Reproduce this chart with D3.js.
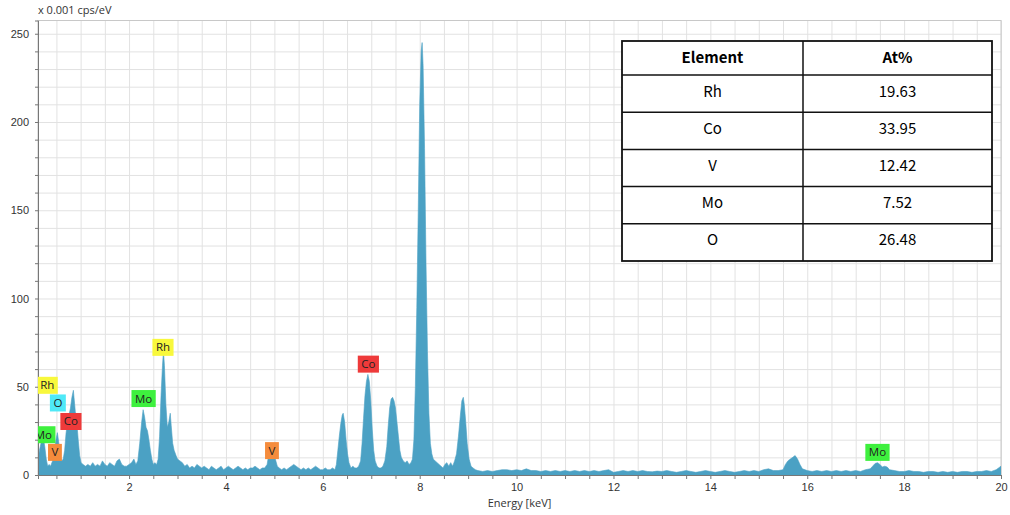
<!DOCTYPE html>
<html>
<head>
<meta charset="utf-8">
<script src="https://cdn.jsdelivr.net/npm/d3@7"></script>
<style>
  body { margin: 0; background: #fff; }
  svg { display: block; font-family: "Open Sans", "Noto Sans", sans-serif; }
</style>
</head>
<body>
<div id="chart"></div>
<script>
// spectrum, energy in keV and counts in 0.001 cps/eV
const energy = [
  0.12, 0.15, 0.19, 0.23, 0.26, 0.29, 0.32, 0.35, 0.38, 0.42, 0.46, 0.49, 0.52, 0.55, 0.58, 0.61, 0.64, 0.67,
  0.70, 0.73, 0.76, 0.79, 0.82, 0.85, 0.87, 0.89, 0.92, 0.95, 0.98, 1.01, 1.05, 1.10, 1.15, 1.20, 1.25, 1.30,
  1.35, 1.40, 1.45, 1.50, 1.55, 1.60, 1.65, 1.70, 1.75, 1.80, 1.85, 1.90, 1.95, 2.00, 2.05, 2.10, 2.14, 2.18,
  2.22, 2.26, 2.29, 2.32, 2.35, 2.38, 2.41, 2.44, 2.47, 2.50, 2.53, 2.57, 2.60, 2.63, 2.66, 2.69, 2.71, 2.73,
  2.76, 2.79, 2.82, 2.85, 2.87, 2.90, 2.93, 2.97, 3.00, 3.05, 3.10, 3.15, 3.20, 3.25, 3.30, 3.35, 3.40, 3.45,
  3.50, 3.55, 3.60, 3.65, 3.70, 3.75, 3.80, 3.85, 3.90, 3.95, 4.00, 4.05, 4.10, 4.15, 4.20, 4.25, 4.30, 4.35,
  4.40, 4.45, 4.50, 4.55, 4.60, 4.65, 4.70, 4.75, 4.80, 4.85, 4.88, 4.92, 4.95, 4.98, 5.02, 5.06, 5.10, 5.15,
  5.20, 5.25, 5.30, 5.35, 5.40, 5.45, 5.50, 5.55, 5.60, 5.65, 5.70, 5.75, 5.80, 5.85, 5.90, 5.95, 6.00, 6.05,
  6.10, 6.15, 6.20, 6.25, 6.28, 6.31, 6.34, 6.37, 6.40, 6.42, 6.45, 6.48, 6.51, 6.54, 6.58, 6.62, 6.66, 6.70,
  6.74, 6.78, 6.81, 6.84, 6.87, 6.90, 6.93, 6.96, 6.99, 7.02, 7.05, 7.08, 7.12, 7.16, 7.20, 7.24, 7.28, 7.32,
  7.35, 7.38, 7.41, 7.44, 7.47, 7.50, 7.53, 7.56, 7.59, 7.62, 7.66, 7.70, 7.74, 7.78, 7.82, 7.85, 7.88, 7.91,
  7.94, 7.97, 8.00, 8.03, 8.05, 8.07, 8.10, 8.13, 8.16, 8.19, 8.22, 8.25, 8.28, 8.32, 8.36, 8.40, 8.44, 8.48,
  8.52, 8.56, 8.60, 8.64, 8.68, 8.72, 8.76, 8.80, 8.84, 8.87, 8.90, 8.92, 8.95, 8.98, 9.02, 9.06, 9.10, 9.15,
  9.20, 9.30, 9.40, 9.50, 9.60, 9.70, 9.80, 9.90, 10.0, 10.1, 10.2, 10.3, 10.4, 10.5, 10.6, 10.7, 10.8, 10.9,
  11.0, 11.1, 11.2, 11.3, 11.4, 11.5, 11.6, 11.7, 11.8, 11.9, 12.0, 12.1, 12.2, 12.3, 12.4, 12.5, 12.6, 12.7,
  12.8, 12.9, 13.0, 13.1, 13.2, 13.3, 13.4, 13.5, 13.6, 13.7, 13.8, 13.9, 14.0, 14.1, 14.2, 14.3, 14.4, 14.5,
  14.6, 14.7, 14.8, 14.9, 15.0, 15.1, 15.2, 15.3, 15.4, 15.5, 15.55, 15.6, 15.65, 15.7, 15.75, 15.8, 15.85, 15.9,
  16.0, 16.1, 16.2, 16.3, 16.4, 16.5, 16.6, 16.7, 16.8, 16.9, 17.0, 17.1, 17.2, 17.3, 17.35, 17.4, 17.45, 17.5,
  17.55, 17.6, 17.65, 17.7, 17.8, 17.9, 18.0, 18.1, 18.2, 18.3, 18.4, 18.5, 18.6, 18.7, 18.8, 18.9, 19.0, 19.1,
  19.2, 19.3, 19.4, 19.5, 19.6, 19.7, 19.8, 19.9, 19.95, 20.0
];
const counts = [
  9, 14, 19, 21, 16, 9, 5, 6, 5, 8, 14, 20, 24, 18, 10, 8, 9, 14,
  24, 30, 34, 38, 44, 48, 42, 36, 30, 20, 11, 7, 6, 5, 6, 5, 7, 5,
  6, 5, 8, 6, 5, 7, 6, 5, 8, 9, 6, 5, 5, 6, 7, 9, 6, 8,
  18, 30, 37, 33, 27, 25, 20, 14, 9, 6, 7, 6, 9, 22, 45, 62, 70, 62,
  40, 27, 30, 35, 28, 18, 14, 11, 9, 8, 7, 5, 6, 4, 5, 4, 6, 5,
  4, 5, 4, 3, 5, 4, 3, 4, 5, 3, 4, 5, 4, 3, 4, 5, 4, 3,
  4, 3, 4, 4, 5, 4, 3, 4, 4, 6, 11, 14, 15, 14, 9, 5, 4, 3,
  4, 3, 4, 5, 6, 5, 4, 3, 4, 3, 4, 3, 4, 5, 4, 3, 3, 4,
  3, 3, 4, 3, 6, 14, 22, 29, 34, 35, 30, 20, 12, 7, 4, 5, 4, 4,
  5, 8, 18, 32, 45, 53, 57, 53, 42, 26, 14, 8, 5, 4, 4, 5, 8, 16,
  28, 38, 43, 44, 42, 38, 30, 22, 14, 10, 8, 7, 8, 6, 7, 9, 20, 50,
  95, 150, 210, 240, 245, 232, 185, 120, 70, 35, 18, 12, 9, 8, 7, 6, 5, 4,
  6, 7, 5, 7, 5, 8, 12, 22, 34, 42, 44, 40, 30, 18, 9, 5, 4, 3,
  2.5, 2, 2.5, 2, 2.5, 3, 3, 2.5, 3, 2.5, 3.5, 2.5, 2.5, 2, 2.5, 2, 2.5, 2,
  2.5, 2, 2.5, 2, 2.5, 2, 2.5, 2, 2.5, 3, 1.5, 2, 2.5, 2, 2.5, 2, 2.5, 2,
  1.8, 2.2, 2, 2.5, 2, 1.5, 2, 2.5, 2, 1.5, 2, 2.5, 2, 1.5, 2, 2.5, 2, 1.5,
  2, 2.5, 2, 2.5, 2, 3, 3.5, 2.5, 2.5, 3, 6, 8, 9, 10, 11, 9, 6, 3.5,
  2.5, 2, 2.5, 2, 2.5, 2, 2.5, 2, 2.5, 2, 2.5, 2, 3, 3.5, 5, 6.5, 7, 6,
  4.5, 5, 4.5, 3, 2.5, 2, 2, 2.5, 2, 2, 1.5, 2, 2, 1.5, 2, 1.5, 2, 1.5,
  2, 2, 1.5, 2, 2, 2.5, 2, 3, 4, 5
];

// element markers: name, energy (keV), level of box bottom, colour
const markNames  = ["Mo", "Rh", "O", "V", "Co", "Mo", "Rh", "V", "Co", "Mo"];
const markEnergy = [0.23, 0.31, 0.53, 0.47, 0.80, 2.30, 2.70, 4.95, 6.94, 17.45];
const markLevel  = [18, 46, 36, 8, 25.5, 38.5, 67.5, 9, 58, 8];
const markColor  = ["#3ef03e", "#f8f83c", "#4fe9f7", "#f58c3c", "#ee3a3a",
                    "#3ef03e", "#f8f83c", "#f58c3c", "#ee3a3a", "#3ef03e"];

// composition table
const tableElements = ["Rh", "Co", "V", "Mo", "O"];
const tableAt = ["19.63", "33.95", "12.42", "7.52", "26.48"];

const xTicks = [2, 4, 6, 8, 10, 12, 14, 16, 18, 20];
const yTicks = [0, 50, 100, 150, 200, 250];

const W = 1010, H = 515;
const plot = {left: 38, right: 1001, top: 20.5, bottom: 475};

const svg = d3.select("#chart").append("svg")
    .attr("width", W)
    .attr("height", H);

svg.append("rect").attr("width", W).attr("height", H).attr("fill", "#fff");

const x = d3.scaleLinear().domain([0.12, 20]).range([plot.left, plot.right]);
const y = d3.scaleLinear().domain([0, 257.5]).range([plot.bottom, plot.top]);

svg.append("clipPath").attr("id", "plot-clip")
  .append("rect")
    .attr("x", plot.left).attr("y", plot.top)
    .attr("width", plot.right - plot.left).attr("height", plot.bottom - plot.top);

// gridlines, every 0.5 keV and every 10 counts
const xGrid = d3.range(0.5, 20.01, 0.5);
const yGrid = d3.range(10, 257, 10);

svg.append("g")
    .attr("transform", `translate(0, ${plot.bottom})`)
    .call(d3.axisBottom(x).tickValues(xGrid).tickSize(-(plot.bottom - plot.top)).tickFormat(""))
    .call(g => g.select(".domain").remove())
    .selectAll("line").attr("stroke", "#e2e2e2");

svg.append("g")
    .attr("transform", `translate(${plot.left}, 0)`)
    .call(d3.axisLeft(y).tickValues(yGrid).tickSize(-(plot.right - plot.left)).tickFormat(""))
    .call(g => g.select(".domain").remove())
    .selectAll("line").attr("stroke", "#e2e2e2");

// frame
svg.append("rect")
    .attr("x", plot.left).attr("y", plot.top)
    .attr("width", plot.right - plot.left).attr("height", plot.bottom - plot.top)
    .attr("fill", "none")
    .attr("stroke", "#c8c8c8");

// spectrum
const spectrum = energy.map((e, i) => ({e: e, c: counts[i]}));

svg.append("path")
    .datum(spectrum)
    .attr("clip-path", "url(#plot-clip)")
    .attr("fill", "#4ba1c4")
    .attr("stroke", "#4ba1c4")
    .attr("stroke-width", 0.6)
    .attr("d", d3.area()
        .x(d => x(d.e))
        .y0(y(0))
        .y1(d => y(d.c)));

// axes
const xAxis = svg.append("g")
    .attr("transform", `translate(0, ${plot.bottom})`)
    .call(d3.axisBottom(x).tickValues(xGrid).tickSize(4).tickPadding(4)
        .tickFormat(d => xTicks.includes(d) ? d : ""));
xAxis.select(".domain").attr("stroke", "#777");
xAxis.selectAll("line").attr("stroke", "#777");
xAxis.selectAll("text").attr("font-size", 11).attr("fill", "#333");

const yAxis = svg.append("g")
    .attr("transform", `translate(${plot.left}, 0)`)
    .call(d3.axisLeft(y).tickValues(d3.range(0, 257, 10)).tickSize(3).tickPadding(6)
        .tickFormat(d => yTicks.includes(d) ? d : ""));
yAxis.select(".domain").attr("stroke", "#777");
yAxis.selectAll("line").attr("stroke", "#777");
yAxis.selectAll("text").attr("font-size", 11).attr("fill", "#333");

svg.append("text")
    .attr("x", plot.left)
    .attr("y", 14)
    .attr("font-size", 11)
    .attr("fill", "#333")
    .text("x 0.001 cps/eV");

svg.append("text")
    .attr("x", (plot.left + plot.right) / 2)
    .attr("y", 507)
    .attr("text-anchor", "middle")
    .attr("font-size", 11)
    .attr("fill", "#333")
    .text("Energy [keV]");

// element markers
const marks = svg.append("g").attr("clip-path", "url(#plot-clip)");
markNames.forEach((name, i) => {
    const g = marks.append("g");
    const rect = g.append("rect");
    const t = g.append("text")
        .attr("x", x(markEnergy[i]))
        .attr("y", y(markLevel[i]) - 4.5)
        .attr("text-anchor", "middle")
        .attr("font-size", 11.5)
        .attr("fill", "#222")
        .text(name);
    const w = t.node().getComputedTextLength() + 7;
    rect.attr("x", x(markEnergy[i]) - w / 2)
        .attr("y", y(markLevel[i]) - 17)
        .attr("width", w)
        .attr("height", 17)
        .attr("fill", markColor[i]);
});

// table
const tx0 = 622, tx1 = 992, tMid = 803, ty0 = 41, headH = 34, rowH = 37.2;
const table = svg.append("g")
    .attr("font-family", "'Noto Sans CJK SC', 'Noto Sans', sans-serif")
    .attr("font-size", 15)
    .attr("fill", "#000");
const tyEnd = ty0 + headH + rowH * tableElements.length;

table.append("rect")
    .attr("x", tx0).attr("y", ty0)
    .attr("width", tx1 - tx0).attr("height", tyEnd - ty0)
    .attr("fill", "#fff")
    .attr("stroke", "#111")
    .attr("stroke-width", 1.8);

table.append("line")
    .attr("x1", tMid).attr("x2", tMid)
    .attr("y1", ty0).attr("y2", tyEnd)
    .attr("stroke", "#111").attr("stroke-width", 1.5);

tableElements.forEach((el, i) => {
    const yy = ty0 + headH + rowH * i;
    table.append("line")
        .attr("x1", tx0).attr("x2", tx1)
        .attr("y1", yy).attr("y2", yy)
        .attr("stroke", "#111").attr("stroke-width", 1.5);
    table.append("text")
        .attr("x", (tx0 + tMid) / 2).attr("y", yy + rowH / 2 + 3)
        .attr("text-anchor", "middle")
        .text(el);
    table.append("text")
        .attr("x", (tMid + tx1) / 2).attr("y", yy + rowH / 2 + 3)
        .attr("text-anchor", "middle")
        .text(tableAt[i]);
});

table.append("text")
    .attr("x", (tx0 + tMid) / 2).attr("y", ty0 + headH / 2 + 5)
    .attr("text-anchor", "middle")
    .attr("font-weight", "bold")
    .text("Element");
table.append("text")
    .attr("x", (tMid + tx1) / 2).attr("y", ty0 + headH / 2 + 5)
    .attr("text-anchor", "middle")
    .attr("font-weight", "bold")
    .text("At%");
</script>
</body>
</html>
